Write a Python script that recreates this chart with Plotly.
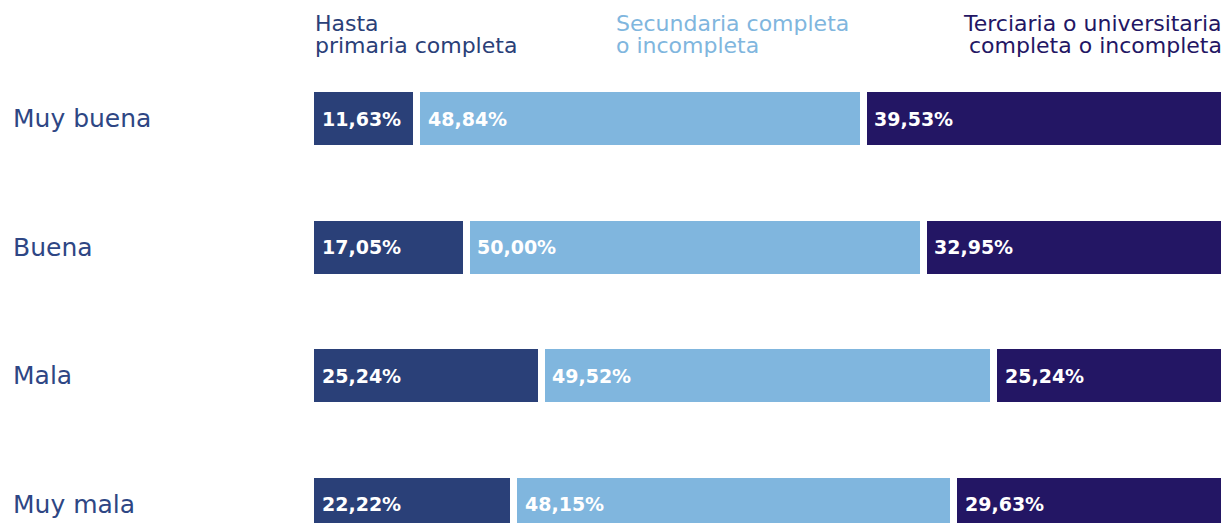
import plotly.graph_objects as go

categories = ["Muy buena", "Buena", "Mala", "Muy mala"]
series_names = ["Hasta primaria completa", "Secundaria completa o incompleta",
                "Terciaria o universitaria completa o incompleta"]
primaria = [11.63, 17.05, 25.24, 22.22]
secundaria = [48.84, 50.00, 49.52, 48.15]
terciaria = [39.53, 32.95, 25.24, 29.63]

header_lines = [["Hasta", "primaria completa"],
                ["Secundaria completa", "o incompleta"],
                ["Terciaria o universitaria", "completa o incompleta"]]

colors = ["#2a4078", "#80b6de", "#231664"]
label_color = "#2e4684"

W, H = 1223, 523
ML = 310

def fmt(v):
    return f"{v:.2f}".replace(".", ",") + "%"

fig = go.Figure()
all_series = [primaria, secundaria, terciaria]
for name, vals, col in zip(series_names, all_series, colors):
    fig.add_trace(go.Bar(
        y=list(range(len(categories))), x=vals, orientation="h", name=name,
        marker=dict(color=col, line=dict(color="white", width=7)),
        width=0.467,
        hoverinfo="skip",
    ))

# value labels, placed at the start of each stacked segment
for i in range(len(categories)):
    base = 0.0
    for vals in all_series:
        fig.add_annotation(x=base, xref="x", xanchor="left", xshift=9,
                           y=i, yref="y", yanchor="middle", text=fmt(vals[i]),
                           showarrow=False,
                           font=dict(family="DejaVu Sans", size=19, color="white",
                                     weight="bold"))
        base += vals[i]

# category labels
for i, c in enumerate(categories):
    fig.add_annotation(x=(11 - ML) / (W - ML), xref="paper", xanchor="left",
                       y=i, yref="y", yanchor="middle", text=c, showarrow=False,
                       font=dict(family="DejaVu Sans", size=25, color=label_color))

# headers
hx = [(313, "left"), (614, "left"), (1224, "right")]
for (px, anc), lines, col in zip(hx, header_lines, colors):
    for k, line in enumerate(lines):
        cy = 23 + k * 22
        fig.add_annotation(x=(px - ML) / (W - ML), xref="paper", xanchor=anc,
                           y=1 - cy / H, yref="paper", yanchor="middle",
                           text=line, showarrow=False,
                           font=dict(family="DejaVu Sans", size=22, color=col))

scale = 914 / 100.0
fig.update_layout(
    width=W, height=H, barmode="stack", showlegend=False,
    margin=dict(l=ML, r=0, t=0, b=0),
    paper_bgcolor="white", plot_bgcolor="white",
    xaxis=dict(range=[-0.5 / scale, (W - ML - 0.5) / scale], visible=False, fixedrange=True),
    yaxis=dict(range=[-118.5 / 128.5 + H / 128.5, -118.5 / 128.5], visible=False, fixedrange=True),
)
fig.write_html("out.html", config={"displayModeBar": False},
               post_script="document.body.style.margin='0';document.body.style.overflow='hidden';")
